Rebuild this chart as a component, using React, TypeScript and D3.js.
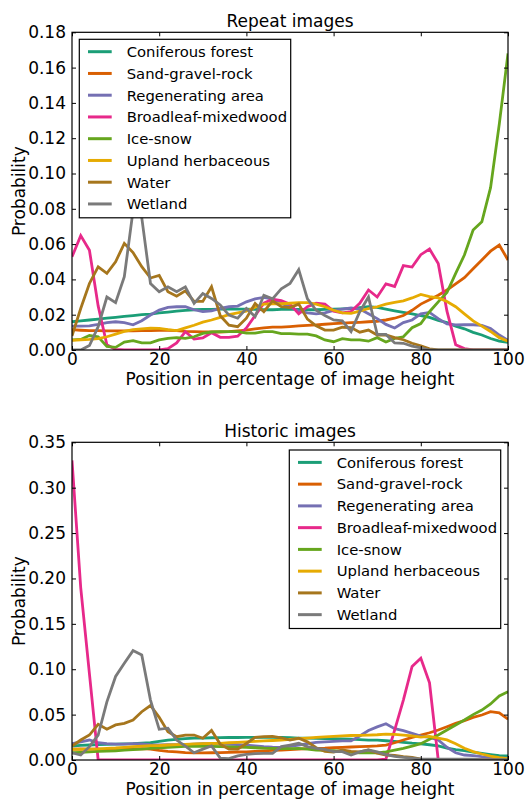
import * as d3 from 'd3';
import React, { useRef, useEffect } from 'react';

// x positions (percentage of image height), sampled every 2%
const positions = [
  0, 2, 4, 6, 8, 10, 12, 14, 16, 18,
  20, 22, 24, 26, 28, 30, 32, 34, 36, 38,
  40, 42, 44, 46, 48, 50, 52, 54, 56, 58,
  60, 62, 64, 66, 68, 70, 72, 74, 76, 78,
  80, 82, 84, 86, 88, 90, 92, 94, 96, 98,
  100,
];

const landCovers = [
  'Coniferous forest',
  'Sand-gravel-rock',
  'Regenerating area',
  'Broadleaf-mixedwood',
  'Ice-snow',
  'Upland herbaceous',
  'Water',
  'Wetland',
];

const palette = ['#1b9e77', '#d95f02', '#7570b3', '#e7298a', '#66a61e', '#e6ab02', '#a6761d', '#7a7a7a'];

// ---- Repeat images ----
const repeatConiferous = [
  0.016, 0.0165, 0.017, 0.0175, 0.018, 0.0185, 0.019, 0.0195, 0.02, 0.0203,
  0.021, 0.0215, 0.022, 0.0225, 0.0228, 0.023, 0.023, 0.0232, 0.0232, 0.0232,
  0.0232, 0.023, 0.0228, 0.0228, 0.023, 0.023, 0.023, 0.0228, 0.0228, 0.023,
  0.0232, 0.0233, 0.0235, 0.024, 0.0245, 0.0242, 0.0232, 0.0222, 0.0213, 0.0205,
  0.0195, 0.0185, 0.0168, 0.0155, 0.0135, 0.012, 0.01, 0.0085, 0.0065, 0.005,
  0.0043,
];
const repeatSand = [
  0.0115, 0.0112, 0.011, 0.011, 0.0108, 0.0108, 0.0108, 0.0108, 0.011, 0.011,
  0.0112, 0.0112, 0.011, 0.0106, 0.0104, 0.0103, 0.0102, 0.0102, 0.0104, 0.0108,
  0.0113, 0.012, 0.0125, 0.013, 0.013, 0.0133, 0.0137, 0.014, 0.0142, 0.0146,
  0.015, 0.0152, 0.0155, 0.0157, 0.016, 0.0163, 0.017, 0.018, 0.0195, 0.0225,
  0.026, 0.0285, 0.031, 0.034, 0.0375, 0.041, 0.046, 0.051, 0.056, 0.0595,
  0.051,
];
const repeatRegenerating = [
  0.0135, 0.0135, 0.0137, 0.0145, 0.0155, 0.016, 0.0155, 0.0143, 0.0166, 0.0198,
  0.0226, 0.0241, 0.0245, 0.0245, 0.0228, 0.0218, 0.0222, 0.0236, 0.0245, 0.0249,
  0.0273, 0.029, 0.0298, 0.0288, 0.0265, 0.0245, 0.022, 0.021, 0.0205, 0.021,
  0.0225, 0.0232, 0.0238, 0.0232, 0.0205, 0.0178, 0.0145, 0.0125, 0.0155, 0.017,
  0.0205, 0.0213, 0.0178, 0.0148, 0.0142, 0.0143, 0.0143, 0.014, 0.0122, 0.0085,
  0.0055,
];
const repeatBroadleaf = [
  0.0528, 0.0648, 0.0565, 0.025, 0.003, 0.0003, 0, 0, 0, 0,
  0, 0.0008, 0.004, 0.0104, 0.0062, 0.0068, 0.0098, 0.0072, 0.0072, 0.0078,
  0.0125, 0.0195, 0.0265, 0.0288, 0.028, 0.026, 0.0205, 0.0245, 0.0265, 0.026,
  0.022, 0.021, 0.0218, 0.0265, 0.034, 0.03, 0.0375, 0.036, 0.0478, 0.047,
  0.054, 0.0572, 0.049, 0.022, 0.003, 0.0008, 0, 0, 0, 0,
  0,
];
const repeatIce = [
  0.0057, 0.006, 0.0082, 0.0075, 0.002, 0.0015, 0.0045, 0.0053, 0.004, 0.004,
  0.0057, 0.0066, 0.007, 0.0066, 0.0075, 0.0094, 0.0102, 0.0104, 0.0104, 0.0104,
  0.0096, 0.0096, 0.0104, 0.0104, 0.0093, 0.0093, 0.009, 0.009, 0.008, 0.0057,
  0.0047, 0.0064, 0.0057, 0.0057, 0.005, 0.007, 0.0045, 0.0066, 0.0075, 0.0126,
  0.015, 0.0217, 0.0273, 0.0326, 0.0434, 0.0538, 0.068, 0.0726, 0.092, 0.128,
  0.168,
];
const repeatUpland = [
  0.0055, 0.0058, 0.006, 0.0065, 0.0075, 0.009, 0.0105, 0.0115, 0.012, 0.0124,
  0.0122, 0.0115, 0.011, 0.0125, 0.014, 0.0158, 0.017, 0.0185, 0.02, 0.021,
  0.022, 0.0242, 0.026, 0.0262, 0.0262, 0.0265, 0.0268, 0.0268, 0.026, 0.0245,
  0.0225, 0.021, 0.0208, 0.022, 0.0235, 0.0245, 0.026, 0.027, 0.0278, 0.0295,
  0.0315, 0.0302, 0.0295, 0.0275, 0.0245, 0.0205, 0.0165, 0.0135, 0.0105, 0.007,
  0.005,
];
const repeatWater = [
  0.008, 0.0235, 0.0377, 0.0471, 0.0434, 0.05, 0.0604, 0.0552, 0.0472, 0.0408,
  0.0423, 0.033, 0.0305, 0.0335, 0.0275, 0.0275, 0.0358, 0.0194, 0.0141, 0.0132,
  0.018, 0.0264, 0.0217, 0.0278, 0.0245, 0.024, 0.026, 0.0175, 0.0137, 0.0113,
  0.0113, 0.0129, 0.0127, 0.0101, 0.0113, 0.0085, 0.0086, 0.007, 0.0058, 0.0038,
  0.0024, 0.0007, 0, 0, 0, 0, 0, 0, 0, 0,
  0,
];
const repeatWetland = [
  0, 0, 0.0025, 0.0132, 0.03, 0.0268, 0.0415, 0.079, 0.075, 0.0377,
  0.033, 0.0358, 0.033, 0.0358, 0.0264, 0.032, 0.0292, 0.0255, 0.0198, 0.018,
  0.0235, 0.0189, 0.031, 0.029, 0.0346, 0.0377, 0.0455, 0.029, 0.0225, 0.0195,
  0.017, 0.0165, 0.0104, 0.0217, 0.03, 0.0088, 0.0088, 0.004, 0.0038, 0.0022,
  0.0012, 0, 0, 0, 0, 0, 0, 0, 0, 0,
  0,
];

// ---- Historic images ----
const historicConiferous = [
  0.0154, 0.016, 0.0165, 0.017, 0.0172, 0.0175, 0.0178, 0.018, 0.0185, 0.019,
  0.0205, 0.022, 0.0228, 0.0235, 0.024, 0.0242, 0.0245, 0.0246, 0.0248, 0.0248,
  0.025, 0.025, 0.025, 0.025, 0.0248, 0.0245, 0.0242, 0.024, 0.0238, 0.0235,
  0.0235, 0.0232, 0.023, 0.0225, 0.022, 0.0218, 0.0212, 0.0205, 0.0195, 0.0185,
  0.0178, 0.0168, 0.0155, 0.013, 0.0115, 0.0103, 0.0088, 0.0073, 0.006, 0.0048,
  0.0045,
];
const historicSand = [
  0.012, 0.0122, 0.012, 0.012, 0.0118, 0.0118, 0.012, 0.0122, 0.0125, 0.012,
  0.0105, 0.0095, 0.009, 0.0082, 0.0078, 0.0078, 0.008, 0.0082, 0.0085, 0.0088,
  0.009, 0.0095, 0.01, 0.0105, 0.011, 0.0115, 0.012, 0.0125, 0.0128, 0.013,
  0.0135, 0.014, 0.0143, 0.0147, 0.015, 0.0155, 0.0165, 0.019, 0.022, 0.025,
  0.0275, 0.03, 0.033, 0.0367, 0.0404, 0.0433, 0.047, 0.0496, 0.0532, 0.052,
  0.045,
];
const historicRegenerating = [
  0.018, 0.02, 0.022, 0.019, 0.018, 0.0175, 0.0175, 0.018, 0.0178, 0.017,
  0.0165, 0.0168, 0.0168, 0.017, 0.0175, 0.018, 0.0178, 0.0175, 0.0172, 0.017,
  0.0165, 0.0155, 0.0147, 0.0142, 0.014, 0.015, 0.0165, 0.018, 0.0195, 0.02,
  0.0205, 0.021, 0.021, 0.0265, 0.0325, 0.0365, 0.04, 0.0345, 0.0323, 0.0294,
  0.0264, 0.025, 0.022, 0.014, 0.008, 0.0055, 0.0048, 0.0037, 0.003, 0.0022,
  0.002,
];
const historicBroadleaf = [
  0.33, 0.19, 0.095, 0, 0, 0, 0, 0, 0, 0,
  0, 0, 0, 0, 0, 0, 0, 0, 0, 0,
  0, 0, 0, 0, 0, 0, 0, 0, 0, 0,
  0, 0, 0, 0, 0, 0, 0.001, 0.033, 0.066, 0.103,
  0.112, 0.085, 0, 0, 0, 0, 0, 0, 0, 0,
  0,
];
const historicIce = [
  0.008, 0.0085, 0.009, 0.0095, 0.0098, 0.0102, 0.0108, 0.0115, 0.012, 0.0128,
  0.0135, 0.014, 0.0145, 0.015, 0.0152, 0.015, 0.015, 0.0147, 0.0145, 0.0142,
  0.014, 0.0135, 0.013, 0.0128, 0.0125, 0.0125, 0.0128, 0.012, 0.011, 0.0105,
  0.0103, 0.0095, 0.0085, 0.008, 0.0078, 0.0078, 0.009, 0.011, 0.0129, 0.0154,
  0.018, 0.0228, 0.0275, 0.033, 0.0386, 0.044, 0.05, 0.055, 0.0617, 0.0705,
  0.0753,
];
const historicUpland = [
  0.0117, 0.0118, 0.012, 0.0122, 0.0128, 0.0132, 0.014, 0.0147, 0.0152, 0.0158,
  0.016, 0.0165, 0.017, 0.0173, 0.0177, 0.018, 0.0182, 0.0184, 0.019, 0.0195,
  0.02, 0.0205, 0.021, 0.0215, 0.022, 0.0228, 0.0235, 0.0242, 0.025, 0.0255,
  0.026, 0.0265, 0.027, 0.0272, 0.0275, 0.0278, 0.0286, 0.0282, 0.0275, 0.0265,
  0.0252, 0.026, 0.0242, 0.0222, 0.018, 0.013, 0.0092, 0.0066, 0.0044, 0.0026,
  0.0015,
];
const historicWater = [
  0.0154, 0.022, 0.0275, 0.0393, 0.034, 0.0386, 0.0404, 0.044, 0.0532, 0.06,
  0.047, 0.0312, 0.0257, 0.0275, 0.0275, 0.024, 0.0325, 0.0175, 0.012, 0.012,
  0.0182, 0.025, 0.0257, 0.026, 0.0245, 0.022, 0.024, 0.02, 0.0135, 0.0095,
  0.0086, 0.011, 0.0095, 0.009, 0.011, 0.0075, 0.0055, 0.005, 0.0037, 0.003,
  0.001, 0, 0, 0, 0, 0, 0, 0, 0, 0,
  0,
];
const historicWetland = [
  0.008, 0.0055, 0.0147, 0.0275, 0.064, 0.092, 0.1065, 0.1205, 0.1157, 0.066,
  0.0338, 0.035, 0.022, 0.0154, 0.008, 0.012, 0.0155, 0.002, 0.0015, 0.0045,
  0.0062, 0.007, 0.0073, 0.0072, 0.0147, 0.0165, 0.0184, 0.0147, 0.0128, 0.0117,
  0.0092, 0.0092, 0.0055, 0.009, 0.011, 0.009, 0.006, 0.004, 0.003, 0.002,
  0.001, 0.001, 0.0008, 0.0008, 0.001, 0.001, 0.0008, 0.0005, 0.0005, 0.0003,
  0.0003,
];

const repeatSeries = [
  repeatConiferous, repeatSand, repeatRegenerating, repeatBroadleaf,
  repeatIce, repeatUpland, repeatWater, repeatWetland,
];
const historicSeries = [
  historicConiferous, historicSand, historicRegenerating, historicBroadleaf,
  historicIce, historicUpland, historicWater, historicWetland,
];

const repeatTicks = [0, 0.02, 0.04, 0.06, 0.08, 0.1, 0.12, 0.14, 0.16, 0.18];
const historicTicks = [0, 0.05, 0.1, 0.15, 0.2, 0.25, 0.3, 0.35];
const positionTicks = [0, 20, 40, 60, 80, 100];

const FONT = '"DejaVu Sans", sans-serif';
const LEFT = 72;
const RIGHT = 508;

const Panel = ({ id, title, series, yTicks, top, bottom, legendX, legendY }) => {
  const bottomRef = useRef(null);
  const topRef = useRef(null);
  const leftRef = useRef(null);
  const rightRef = useRef(null);

  const x = d3.scaleLinear().domain([0, 100]).range([LEFT, RIGHT]);
  const y = d3.scaleLinear().domain([0, yTicks[yTicks.length - 1]]).range([bottom, top]);
  const line = d3.line<number>()
    .x((d, i) => x(positions[i]))
    .y((d) => y(d));

  useEffect(() => {
    const style = (g) => {
      g.attr('font-size', 17).attr('font-family', FONT);
      g.select('.domain').remove();
      g.selectAll('line').attr('stroke', '#000').attr('stroke-width', 1);
      g.selectAll('text').attr('fill', '#000');
    };
    d3.select(bottomRef.current)
      .call(d3.axisBottom(x).tickValues(positionTicks).tickSizeInner(-4).tickSizeOuter(0)
        .tickPadding(3).tickFormat(d3.format('d')))
      .call(style);
    d3.select(topRef.current)
      .call(d3.axisTop(x).tickValues(positionTicks).tickSizeInner(-4).tickSizeOuter(0)
        .tickFormat(() => ''))
      .call(style);
    d3.select(leftRef.current)
      .call(d3.axisLeft(y).tickValues(yTicks).tickSizeInner(-4).tickSizeOuter(0)
        .tickPadding(6).tickFormat(d3.format('.2f')))
      .call(style);
    d3.select(rightRef.current)
      .call(d3.axisRight(y).tickValues(yTicks).tickSizeInner(-4).tickSizeOuter(0)
        .tickFormat(() => ''))
      .call(style);
  }, []);

  const rowGap = 21.75;
  const legendW = 211.4;
  const legendH = 178.5;

  return (
    <g>
      <defs>
        <clipPath id={`clip-${id}`}>
          <rect x={LEFT} y={top} width={RIGHT - LEFT} height={bottom - top} />
        </clipPath>
      </defs>
      <g clipPath={`url(#clip-${id})`}>
        {series.map((values, i) => (
          <path key={landCovers[i]} d={line(values)} fill="none" stroke={palette[i]}
            strokeWidth={2.8} strokeLinejoin="miter" />
        ))}
      </g>
      <rect x={LEFT} y={top} width={RIGHT - LEFT} height={bottom - top}
        fill="none" stroke="#000" strokeWidth={1.2} />
      <g ref={bottomRef} transform={`translate(0,${bottom})`} />
      <g ref={topRef} transform={`translate(0,${top})`} />
      <g ref={leftRef} transform={`translate(${LEFT},0)`} />
      <g ref={rightRef} transform={`translate(${RIGHT},0)`} />

      <text x={(LEFT + RIGHT) / 2} y={top - 5} textAnchor="middle" fontSize={17}
        fontFamily={FONT}>{title}</text>
      <text x={(LEFT + RIGHT) / 2} y={bottom + 35} textAnchor="middle" fontSize={17}
        fontFamily={FONT}>Position in percentage of image height</text>
      <text transform={`translate(25,${(top + bottom) / 2}) rotate(-90)`} textAnchor="middle"
        fontSize={17} fontFamily={FONT}>Probability</text>

      <g transform={`translate(${legendX},${legendY})`}>
        <rect x={0} y={0} width={legendW} height={legendH} fill="#fff" stroke="#000" strokeWidth={1.2} />
        {landCovers.map((name, i) => (
          <g key={name} transform={`translate(0,${12.4 + i * rowGap})`}>
            <line x1={8.7} x2={32.4} y1={0} y2={0} stroke={palette[i]} strokeWidth={3} />
            <text x={47.4} y={0} dy="0.36em" fontSize={14.8} fontFamily={FONT}>{name}</text>
          </g>
        ))}
      </g>
    </g>
  );
};

const App = () => (
  <svg width={527} height={801} style={{ position: 'absolute', left: 0, top: 0, background: '#fff' }}>
    <Panel id="repeat" title="Repeat images" series={repeatSeries} yTicks={repeatTicks}
      top={32.3} bottom={350} legendX={79.3} legendY={39.3} />
    <Panel id="historic" title="Historic images" series={historicSeries} yTicks={historicTicks}
      top={442.3} bottom={760} legendX={289.3} legendY={450} />
  </svg>
);

export default App;
